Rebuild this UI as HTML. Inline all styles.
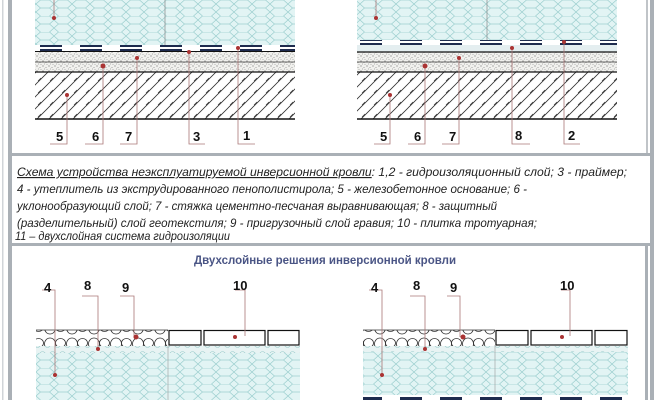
<!DOCTYPE html>
<html><head><meta charset="utf-8"><style>
html,body{margin:0;padding:0;background:#fff;width:659px;height:400px;overflow:hidden}
svg{display:block}
.t{font-family:"Liberation Sans","DejaVu Sans",sans-serif;font-style:italic;font-size:11.5px;fill:#222}
.n{font-family:"Liberation Sans",sans-serif;font-weight:bold;font-size:13px;fill:#111}
</style></head><body>
<svg width="659" height="400" viewBox="0 0 659 400" xmlns="http://www.w3.org/2000/svg">
<defs>
<pattern id="hex" width="18" height="16" patternUnits="userSpaceOnUse">
<rect width="18" height="16" fill="#e2f4f4"/>
<path d="M0 4 L4.5 0 L13.5 0 L18 4 M0 4 L4.5 8 L13.5 8 L18 4 M4.5 8 L0 12 M13.5 8 L18 12 M0 12 L4.5 16 M18 12 L13.5 16" stroke="#9ccfcf" stroke-width="0.7" fill="none"/>
</pattern>
<pattern id="sand" width="6" height="5" patternUnits="userSpaceOnUse">
<rect width="6" height="5" fill="#f1f1ee"/>
<circle cx="1" cy="1" r="0.6" fill="#777"/><circle cx="4" cy="2.5" r="0.5" fill="#888"/><circle cx="2.5" cy="4" r="0.5" fill="#999"/><circle cx="5" cy="4.5" r="0.4" fill="#666"/>
</pattern>
<pattern id="conc" width="12" height="12" patternUnits="userSpaceOnUse">
<rect width="12" height="12" fill="#fff"/>
<path d="M0 12 L12 0 M-3 3 L3 -3 M9 15 L15 9" stroke="#333" stroke-width="0.8"/>
<path d="M2 9 L5 6" stroke="#333" stroke-width="0.6"/>
</pattern>
<pattern id="memb" width="40" height="6" patternUnits="userSpaceOnUse">
<rect width="40" height="6" fill="#fff"/><rect x="0" y="1" width="22" height="4" fill="#1e2b4e"/>
</pattern>
<pattern id="grav" width="22" height="16" patternUnits="userSpaceOnUse">
<rect width="22" height="16" fill="#fff"/>
<ellipse cx="6" cy="8" rx="5.5" ry="6" fill="none" stroke="#333" stroke-width="0.8"/>
<ellipse cx="16.5" cy="7" rx="5" ry="4.5" fill="none" stroke="#333" stroke-width="0.8"/>
</pattern>
<pattern id="geo" width="10" height="7" patternUnits="userSpaceOnUse">
<rect width="10" height="7" fill="#e8f3f3"/><path d="M0 3 Q2.5 0 5 3 T10 3" stroke="#9cc" fill="none" stroke-width="0.6"/>
</pattern>
</defs>

<rect x="2" y="0" width="1.5" height="400" fill="#d0d4d8"/>
<rect x="8" y="0" width="4" height="400" fill="#aab0b6"/>
<rect x="650" y="0" width="4" height="400" fill="#aab0b6"/>
<rect x="646" y="0" width="2" height="156" fill="#c0c4c8"/>
<rect x="10" y="153" width="640" height="3" fill="#aab0b6"/>
<rect x="10" y="243" width="640" height="3" fill="#aab0b6"/>
<rect x="645" y="243" width="3" height="157" fill="#aab0b6"/>

<g>
<rect x="35" y="0" width="260" height="45" fill="url(#hex)"/>
<line x1="165" y1="0" x2="165" y2="119" stroke="#888" stroke-width="0.7"/>
<rect x="35" y="45" width="260" height="6" fill="url(#memb)"/>
<rect x="35" y="51" width="260" height="1.5" fill="#111"/>
<rect x="35" y="52" width="260" height="20" fill="url(#sand)"/>
<line x1="35" y1="62" x2="295" y2="62" stroke="#333" stroke-width="0.8"/>
<rect x="35" y="72" width="260" height="47" fill="url(#conc)"/>
<line x1="35" y1="72" x2="295" y2="72" stroke="#111" stroke-width="1.2"/>
<line x1="35" y1="119" x2="295" y2="119" stroke="#111" stroke-width="1.5"/>
</g>
<g>
<rect x="357" y="0" width="260" height="40" fill="url(#hex)"/>
<line x1="487" y1="0" x2="487" y2="119" stroke="#888" stroke-width="0.7"/>
<rect x="357" y="40" width="260" height="5" fill="url(#memb)"/>
<rect x="357" y="45" width="260" height="7" fill="#e4eef0"/>
<rect x="357" y="52" width="260" height="20" fill="url(#sand)"/>
<line x1="357" y1="52" x2="617" y2="52" stroke="#111" stroke-width="1.2"/>
<line x1="357" y1="62" x2="617" y2="62" stroke="#333" stroke-width="0.8"/>
<rect x="357" y="72" width="260" height="47" fill="url(#conc)"/>
<line x1="357" y1="72" x2="617" y2="72" stroke="#111" stroke-width="1.2"/>
<line x1="357" y1="119" x2="617" y2="119" stroke="#111" stroke-width="1.5"/>
</g>

<g stroke="#a77" stroke-width="0.8" fill="none">
<path d="M54 0 V18"/><path d="M67 95 V144 H50"/><path d="M103 66 V144 H85"/><path d="M137 58 V144 H120"/><path d="M189 52 V144 H205"/><path d="M238 48 V144 H255"/>
<path d="M376 0 V18"/><path d="M390 95 V144 H374"/><path d="M425 66 V144 H408"/><path d="M459 58 V144 H442"/><path d="M512 48 V144 H530"/><path d="M564 42 V144 H580"/>
</g>
<g fill="#a33">
<circle cx="54" cy="18" r="2"/><circle cx="67" cy="95" r="2"/><circle cx="103" cy="66" r="2.5"/><circle cx="137" cy="58" r="2"/><circle cx="189" cy="52" r="2"/><circle cx="238" cy="48" r="2"/>
<circle cx="376" cy="18" r="2"/><circle cx="390" cy="95" r="2"/><circle cx="425" cy="66" r="2.5"/><circle cx="459" cy="58" r="2"/><circle cx="512" cy="48" r="2"/><circle cx="564" cy="42" r="2"/>
</g>
<g class="n">
<text x="56" y="141">5</text><text x="92" y="141">6</text><text x="125" y="141">7</text><text x="193" y="141">3</text><text x="243" y="140">1</text>
<text x="380" y="141">5</text><text x="414" y="141">6</text><text x="449" y="141">7</text><text x="515" y="140">8</text><text x="568" y="140">2</text>
</g>

<text class="t" x="17" y="176" textLength="610" lengthAdjust="spacingAndGlyphs"><tspan text-decoration="underline">Схема устройства неэксплуатируемой инверсионной кровли</tspan>: 1,2 - гидроизоляционный слой; 3 - праймер;</text>
<text class="t" x="17" y="193" textLength="510" lengthAdjust="spacingAndGlyphs">4 - утеплитель из экструдированного пенополистирола; 5 - железобетонное основание; 6 -</text>
<text class="t" x="17" y="210" textLength="480" lengthAdjust="spacingAndGlyphs">уклонообразующий слой; 7 - стяжка цементно-песчаная выравнивающая; 8 - защитный</text>
<text class="t" x="17" y="227" textLength="520" lengthAdjust="spacingAndGlyphs">(разделительный) слой геотекстиля; 9 - пригрузочный слой гравия; 10 - плитка тротуарная;</text>
<text class="t" x="15" y="240" textLength="215" lengthAdjust="spacingAndGlyphs">11 – двухслойная система гидроизоляции</text>

<text x="325" y="264" text-anchor="middle" font-family="Liberation Sans,sans-serif" font-weight="bold" font-size="11.5" fill="#4a5585">Двухслойные решения инверсионной кровли</text>

<g>
<rect x="36" y="330" width="132" height="16" fill="url(#grav)"/>
<line x1="36" y1="330" x2="168" y2="330" stroke="#333" stroke-width="0.8"/>
<rect x="168" y="330" width="132" height="15" fill="#fff"/>
<g fill="none" stroke="#111" stroke-width="1.2">
<rect x="169" y="330.5" width="32" height="14.5"/><rect x="204" y="330.5" width="61" height="14.5"/><rect x="268" y="330.5" width="31" height="14.5"/>
</g>
<rect x="36" y="346" width="264" height="7" fill="url(#geo)"/>
<rect x="36" y="353" width="264" height="47" fill="url(#hex)"/>
<line x1="168" y1="346" x2="168" y2="400" stroke="#999" stroke-width="0.6"/>
</g>
<g>
<rect x="363" y="330" width="132" height="16" fill="url(#grav)"/>
<line x1="363" y1="330" x2="495" y2="330" stroke="#333" stroke-width="0.8"/>
<g fill="none" stroke="#111" stroke-width="1.2">
<rect x="496" y="330.5" width="32" height="14.5"/><rect x="531" y="330.5" width="61" height="14.5"/><rect x="595" y="330.5" width="32" height="14.5"/>
</g>
<rect x="363" y="346" width="265" height="6" fill="url(#geo)"/>
<rect x="363" y="352" width="265" height="43" fill="url(#hex)"/>
<line x1="495" y1="346" x2="495" y2="395" stroke="#999" stroke-width="0.6"/>
<rect x="363" y="395" width="265" height="5" fill="url(#memb)"/>
</g>
<g stroke="#a77" stroke-width="0.8" fill="none">
<path d="M42 290 H55 V375"/><path d="M82 296 H98 V349"/><path d="M120 296 H134 V337"/><path d="M235 290 H245 V336"/>
<path d="M369 290 H382 V375"/><path d="M410 296 H425 V349"/><path d="M447 296 H460 V337"/><path d="M561 290 H570 V336"/>
</g>
<g fill="#a33">
<circle cx="55" cy="375" r="2"/><circle cx="98" cy="349" r="2"/><circle cx="136" cy="337" r="2.5"/><circle cx="235" cy="337" r="2"/>
<circle cx="382" cy="375" r="2"/><circle cx="425" cy="349" r="2"/><circle cx="463" cy="337" r="2.5"/><circle cx="562" cy="337" r="2"/>
</g>
<g class="n">
<text x="44" y="292">4</text><text x="84" y="290">8</text><text x="122" y="292">9</text><text x="233" y="290">10</text>
<text x="371" y="292">4</text><text x="413" y="290">8</text><text x="450" y="292">9</text><text x="560" y="290">10</text>
</g>
</svg>
</body></html>
